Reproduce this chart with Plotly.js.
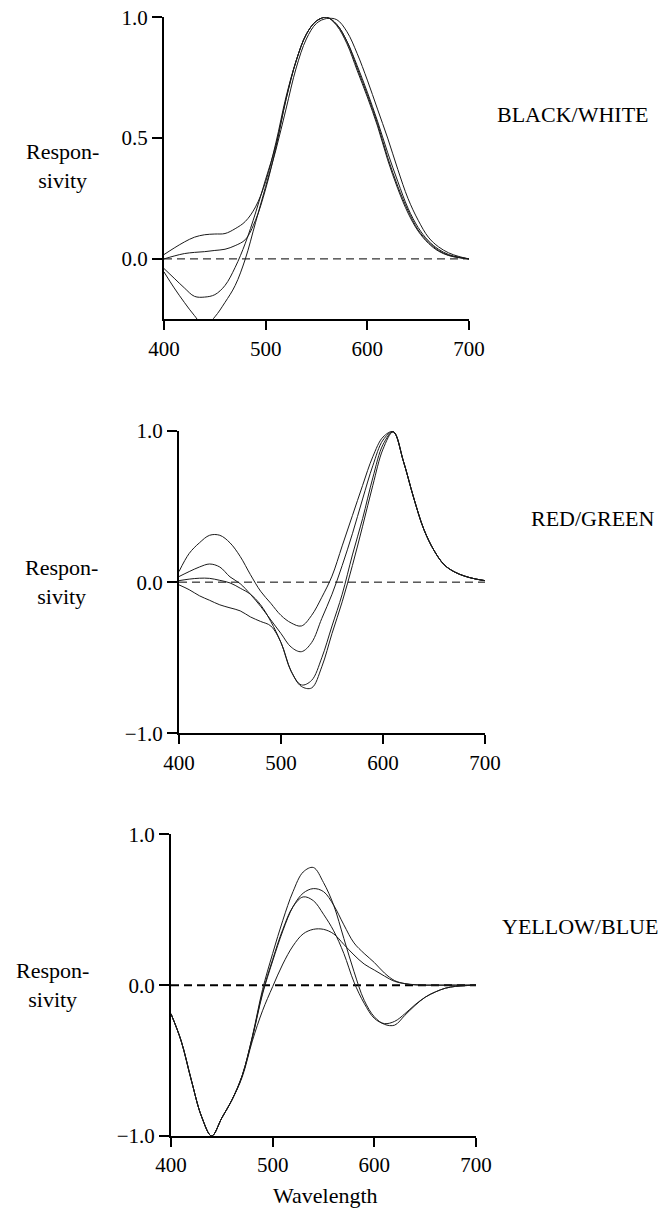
<!DOCTYPE html>
<html>
<head>
<meta charset="utf-8">
<script src="https://cdn.plot.ly/plotly-3.0.1.min.js"></script>
<style>html,body{margin:0;padding:0;background:#fff;}#chart{width:664px;height:1211px;}
#chart text{font-family:"Liberation Serif","DejaVu Serif","Times New Roman",Times,serif !important;}</style>
</head>
<body>
<div id="chart"></div>
<script>
// Wavelength samples (nm)
const wavelength = [400,410,420,430,440,450,460,470,480,490,500,510,520,530,540,550,560,570,580,590,600,610,620,630,640,650,660,670,680,690,700];
const xTicks = [400,500,600,700];
const zeroX = [400,700];
const zeroY = [0,0];

// BLACK/WHITE responsivity (4 curves)
const bwA = [0.018,0.045,0.07,0.09,0.10,0.103,0.105,0.125,0.155,0.215,0.32,0.48,0.67,0.82,0.93,0.985,1.0,0.97,0.90,0.79,0.68,0.56,0.42,0.30,0.20,0.12,0.07,0.035,0.015,0.006,0.0];
const bwB = [0.0,0.012,0.022,0.027,0.030,0.035,0.04,0.055,0.08,0.16,0.29,0.46,0.66,0.82,0.93,0.985,1.0,0.965,0.89,0.78,0.67,0.55,0.41,0.29,0.19,0.115,0.065,0.032,0.014,0.005,0.0];
const bwC = [-0.04,-0.08,-0.12,-0.155,-0.158,-0.148,-0.11,-0.035,0.065,0.19,0.33,0.47,0.66,0.82,0.93,0.985,1.0,0.97,0.90,0.80,0.69,0.57,0.44,0.32,0.21,0.13,0.075,0.04,0.018,0.007,0.0];
const bwD = [-0.054,-0.12,-0.18,-0.235,-0.28,-0.24,-0.18,-0.11,0.0,0.15,0.30,0.45,0.62,0.79,0.91,0.975,0.995,0.99,0.94,0.85,0.74,0.62,0.50,0.37,0.25,0.16,0.09,0.05,0.025,0.01,0.0];

// RED/GREEN responsivity (4 curves)
const rgP = [0.07,0.19,0.26,0.31,0.31,0.26,0.17,0.05,-0.06,-0.14,-0.22,-0.27,-0.29,-0.22,-0.10,0.04,0.24,0.44,0.64,0.83,0.96,0.995,0.80,0.56,0.35,0.21,0.115,0.068,0.04,0.022,0.01];
const rgQ = [0.037,0.07,0.10,0.12,0.10,0.035,-0.01,-0.08,-0.16,-0.25,-0.34,-0.43,-0.46,-0.40,-0.24,-0.08,0.11,0.32,0.55,0.77,0.94,0.995,0.80,0.56,0.35,0.21,0.115,0.068,0.04,0.022,0.01];
const rgR = [0.01,0.02,0.026,0.025,0.012,-0.005,-0.04,-0.08,-0.15,-0.26,-0.40,-0.59,-0.68,-0.65,-0.50,-0.29,-0.08,0.18,0.42,0.69,0.91,0.995,0.80,0.56,0.35,0.21,0.115,0.068,0.04,0.022,0.01];
const rgS = [-0.018,-0.05,-0.09,-0.12,-0.15,-0.17,-0.19,-0.23,-0.26,-0.29,-0.40,-0.59,-0.69,-0.70,-0.56,-0.34,-0.13,0.11,0.37,0.64,0.88,0.995,0.80,0.56,0.35,0.21,0.115,0.068,0.04,0.022,0.01];

// YELLOW/BLUE responsivity (4 curves)
const ybH1 = [-0.19,-0.37,-0.63,-0.87,-1.0,-0.88,-0.76,-0.60,-0.34,-0.03,0.21,0.43,0.62,0.75,0.78,0.68,0.53,0.31,0.09,-0.10,-0.21,-0.26,-0.265,-0.20,-0.135,-0.08,-0.045,-0.02,-0.008,-0.003,0.0];
const ybH2 = [-0.19,-0.37,-0.63,-0.87,-1.0,-0.88,-0.76,-0.60,-0.35,-0.06,0.16,0.36,0.52,0.61,0.64,0.62,0.53,0.40,0.28,0.21,0.15,0.08,0.03,0.01,0.002,0.0,0.0,0.0,0.0,0.0,0.0];
const ybH3 = [-0.19,-0.37,-0.63,-0.87,-1.0,-0.88,-0.76,-0.60,-0.345,-0.05,0.17,0.37,0.52,0.585,0.56,0.47,0.36,0.21,0.02,-0.12,-0.22,-0.255,-0.24,-0.19,-0.13,-0.08,-0.045,-0.02,-0.008,-0.003,0.0];
const ybH4 = [-0.19,-0.37,-0.63,-0.87,-1.0,-0.88,-0.76,-0.61,-0.37,-0.17,-0.01,0.14,0.26,0.34,0.37,0.37,0.34,0.27,0.20,0.14,0.10,0.06,0.025,0.01,0.003,0.0,0.0,0.0,0.0,0.0,0.0];

const panelNames = ["BLACK/WHITE","RED/GREEN","YELLOW/BLUE"];
const yLabel = "Respon-<br>sivity";
const xLabel = "Wavelength";

const FONT = "Liberation Serif, DejaVu Serif, Times New Roman, serif";
const curveLine = {color:"#1a1a1a", width:1, shape:"spline", smoothing:1};

function curves(ys, xa, ya){
  return ys.map(y => ({x:wavelength, y:y, type:"scatter", mode:"lines", line:curveLine, xaxis:xa, yaxis:ya, hoverinfo:"skip"}));
}
function zero(xa, ya, w){
  return {x:zeroX, y:zeroY, type:"scatter", mode:"lines", line:{color:"#000", width:w, dash:"8px,5px"}, xaxis:xa, yaxis:ya, hoverinfo:"skip"};
}

const data = [
  zero("x","y",1), ...curves([bwA,bwB,bwC,bwD],"x","y"),
  zero("x2","y2",1), ...curves([rgP,rgQ,rgR,rgS],"x2","y2"),
  zero("x3","y3",2), ...curves([ybH1,ybH2,ybH3,ybH4],"x3","y3")
];

const H = 1211, W = 664;
function px2x(p){return p/W;}
function px2y(p){return 1 - p/H;}

function xax(domain, anchor){
  return {domain:domain, anchor:anchor, range:[400,700], tickvals:xTicks, showgrid:false, zeroline:false,
    showline:true, linecolor:"#000", linewidth:2, ticks:"outside", ticklen:9, tickwidth:2, tickcolor:"#000",
    tickfont:{family:FONT, size:21, color:"#000"}, fixedrange:true};
}
function yax(domain, anchor, range, tv){
  return {domain:domain, anchor:anchor, range:range, tickvals:tv, tickformat:".1f", showgrid:false, zeroline:false,
    showline:true, linecolor:"#000", linewidth:2, ticks:"outside", ticklen:10, tickwidth:2, tickcolor:"#000",
    tickfont:{family:FONT, size:21, color:"#000"}, fixedrange:true};
}

function ann(text, xpx, ypx, xanchor){
  return {text:text, xref:"paper", yref:"paper", x:px2x(xpx), y:px2y(ypx), xanchor:xanchor, yanchor:"middle",
    showarrow:false, font:{family:FONT, size:22, color:"#000"}};
}

const layout = {
  width:W, height:H, margin:{l:0,r:0,t:0,b:0}, paper_bgcolor:"#fff", plot_bgcolor:"#fff", showlegend:false,
  font:{family:FONT, color:"#000"},
  xaxis: xax([px2x(164), px2x(469)], "y"),
  yaxis: yax([px2y(319.3), px2y(17.3)], "x", [-0.25,1.0], [0,0.5,1]),
  xaxis2: xax([px2x(179), px2x(485)], "y2"),
  yaxis2: yax([px2y(733.3), px2y(431)], "x2", [-1,1], [-1,0,1]),
  xaxis3: xax([px2x(171), px2x(476)], "y3"),
  yaxis3: yax([px2y(1136), px2y(834.3)], "x3", [-1,1], [-1,0,1]),
  annotations:[
    ann(yLabel, 62, 166, "center"),
    ann(yLabel, 61, 582, "center"),
    ann(yLabel, 52, 985, "center"),
    ann(panelNames[0], 495, 114.5, "left"),
    ann(panelNames[1], 529, 518, "left"),
    ann(panelNames[2], 500, 926, "left"),
    ann(xLabel, 325, 1195, "center")
  ]
};

Plotly.newPlot("chart", data, layout, {staticPlot:true, displayModeBar:false});
</script>
</body>
</html>
